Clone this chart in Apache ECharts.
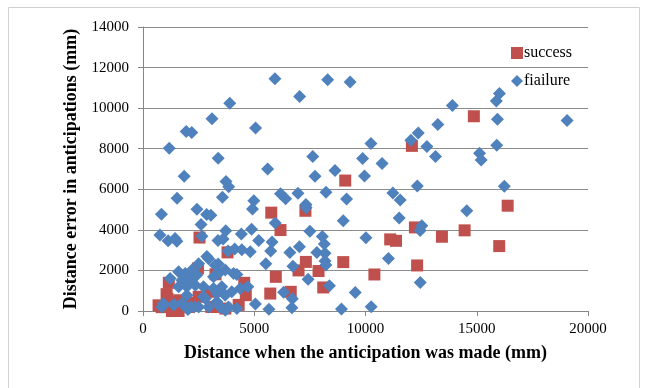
<!DOCTYPE html>
<html>
<head>
<meta charset="utf-8">
<script src="https://cdn.jsdelivr.net/npm/echarts@6/dist/echarts.min.js"></script>
<style>
html, body { margin: 0; padding: 0; background: #fff; }
#chart { width: 647px; height: 388px; }
</style>
</head>
<body>
<div id="chart"></div>
<script type="text/javascript">
// [distance when made, distance error] in mm
var success = [
    [14870, 9600], [12085, 8140], [16390, 5190], [12220, 4120], [11110, 3530], [11370, 3460],
    [13435, 3660], [14455, 3975], [16010, 3200], [12320, 2245], [10400, 1800], [9090, 6430],
    [9000, 2410], [7300, 4940], [7320, 2420], [6990, 2000], [7890, 1970], [8100, 1160],
    [5970, 1685], [5720, 860], [6640, 945], [6180, 3990], [5765, 4848], [4550, 1390],
    [4620, 780], [4300, 300], [3800, 2890], [2540, 3620], [2470, 2100], [3260, 1810],
    [1160, 1390], [1060, 830], [840, 190], [1300, 0], [1600, 0], [1630, 530],
    [2050, 200], [2500, 700], [2950, 945], [3070, 200], [3320, 200], [3700, 120],
    [1850, 300], [2300, 400], [700, 280], [1100, 600], [1400, 450]
];

var failure = [
    [5930, 11450], [8300, 11400], [9310, 11290], [7040, 10570], [3900, 10245], [3100, 9475],
    [5060, 9015], [1940, 8850], [2190, 8800], [1180, 8020], [3380, 7525], [1850, 6640],
    [3730, 6380], [3850, 6130], [5600, 7005], [7630, 7620], [7730, 6640], [8630, 6930],
    [1530, 5555], [3570, 5605], [2425, 5020], [4980, 5440], [4920, 5030], [830, 4765],
    [2860, 4760], [3050, 4715], [2610, 4270], [5945, 4335], [6180, 5780], [6410, 5530],
    [6965, 5805], [8225, 5860], [9150, 5525], [7320, 5250], [7330, 5090], [9000, 4445],
    [760, 3750], [1130, 3465], [1440, 3570], [1520, 3440], [2650, 3680], [3370, 3480],
    [3600, 3555], [3720, 3950], [4420, 3800], [4880, 4030], [5200, 3480], [5800, 3400],
    [5740, 2960], [7500, 3930], [8060, 3670], [8150, 3300], [7030, 3170], [6600, 2880],
    [5520, 2330], [3820, 2960], [4120, 3060], [4440, 3020], [4820, 2920], [7815, 2880],
    [8180, 2850], [8180, 2460], [8220, 2270], [6740, 2200], [11030, 2590], [7420, 1560],
    [8380, 1250], [12460, 1405], [6320, 930], [9540, 910], [6710, 610], [6690, 160],
    [5660, 90], [5050, 350], [8920, 100], [10255, 205],
    [19060, 9395], [16020, 10720], [15880, 10350], [15930, 9450], [15900, 8175], [13905, 10130],
    [13250, 9190], [12760, 8115], [12370, 8770], [12040, 8420], [13145, 7615], [15125, 7780],
    [15200, 7440], [10245, 8255], [9870, 7515], [10745, 7270], [9955, 6660], [12330, 6165],
    [16240, 6150], [11230, 5820], [11560, 5475], [14550, 4945], [11515, 4590], [12530, 4200],
    [12457, 3970], [10020, 3615],
    [2870, 2690], [2950, 2570], [3380, 2320], [2500, 2330], [1600, 1930], [1900, 1850],
    [2200, 2015], [1220, 1600], [1750, 1520], [2120, 1600], [2420, 1770], [3245, 2260],
    [3395, 1850], [3170, 1690], [3694, 2015], [4069, 1850], [4218, 1800], [1600, 1190],
    [1970, 1190], [2350, 1270], [2720, 1190], [3170, 1110], [3540, 1190], [4368, 1110],
    [4712, 1190], [920, 370], [1370, 290], [1750, 370], [2120, 200], [2500, 200],
    [2950, 200], [3320, 450], [3840, 200], [4220, 120], [1970, 780], [2720, 700],
    [3320, 860], [3690, 780], [3470, 1030], [3990, 945], [3700, 40], [2020, 70],
    [850, 200], [2800, 620], [2300, 200], [3470, 200], [1400, 320]
];

var xTicks = { min: 0, max: 20000, interval: 5000 };
var yTicks = { min: 0, max: 14000, interval: 2000 };

var serif = '"Liberation Serif", "Times New Roman", serif';
var plain = function (v) { return String(v); };
var chart = echarts.init(document.getElementById('chart'));
chart.setOption({
    animation: false,
    backgroundColor: '#fff',
    textStyle: { fontFamily: serif },
    graphic: [{
        type: 'rect',
        shape: { x: 8.5, y: 7.5, width: 631, height: 400 },
        style: { fill: 'none', stroke: '#d0d0d0', lineWidth: 1 }
    }],
    grid: { left: 143, right: 59, top: 27, bottom: 77 },
    legend: {
        orient: 'vertical',
        left: 506,
        top: 40,
        itemWidth: 12,
        itemHeight: 12,
        itemGap: 12,
        textStyle: { fontFamily: serif, fontSize: 16, color: '#000', padding: [0, 0, 0, -4] },
        data: [
            { name: 'success', icon: 'rect' },
            { name: 'fiailure', icon: 'diamond' }
        ]
    },
    xAxis: {
        type: 'value',
        min: xTicks.min, max: xTicks.max, interval: xTicks.interval,
        name: 'Distance when the anticipation was made (mm)',
        nameLocation: 'middle',
        nameGap: 33,
        nameTextStyle: { fontFamily: serif, fontSize: 18, fontWeight: 'bold', color: '#000' },
        axisLine: { show: true, lineStyle: { color: '#868686', width: 1 } },
        axisTick: { show: true, length: 5, lineStyle: { color: '#868686' } },
        axisLabel: { margin: 11, fontFamily: serif, fontSize: 15, color: '#000', formatter: plain },
        splitLine: { show: false }
    },
    yAxis: {
        type: 'value',
        min: yTicks.min, max: yTicks.max, interval: yTicks.interval,
        name: 'Distance error in anticipations (mm)',
        nameLocation: 'middle',
        nameGap: 60,
        nameTextStyle: { fontFamily: serif, fontSize: 18, fontWeight: 'bold', color: '#000' },
        axisLine: { show: true, lineStyle: { color: '#868686', width: 1 } },
        axisTick: { show: true, length: 5, lineStyle: { color: '#868686' } },
        axisLabel: { margin: 14, fontFamily: serif, fontSize: 15, color: '#000', formatter: plain },
        splitLine: { show: true, lineStyle: { color: '#8c8c8c', width: 1 } }
    },
    series: [
        {
            name: 'success',
            type: 'scatter',
            symbol: 'rect',
            symbolSize: 12,
            itemStyle: { color: '#C0504D', opacity: 1 },
            data: success
        },
        {
            name: 'fiailure',
            type: 'scatter',
            symbol: 'diamond',
            symbolSize: 13,
            itemStyle: { color: '#4F81BD', opacity: 1 },
            data: failure
        }
    ]
});
</script>
</body>
</html>
